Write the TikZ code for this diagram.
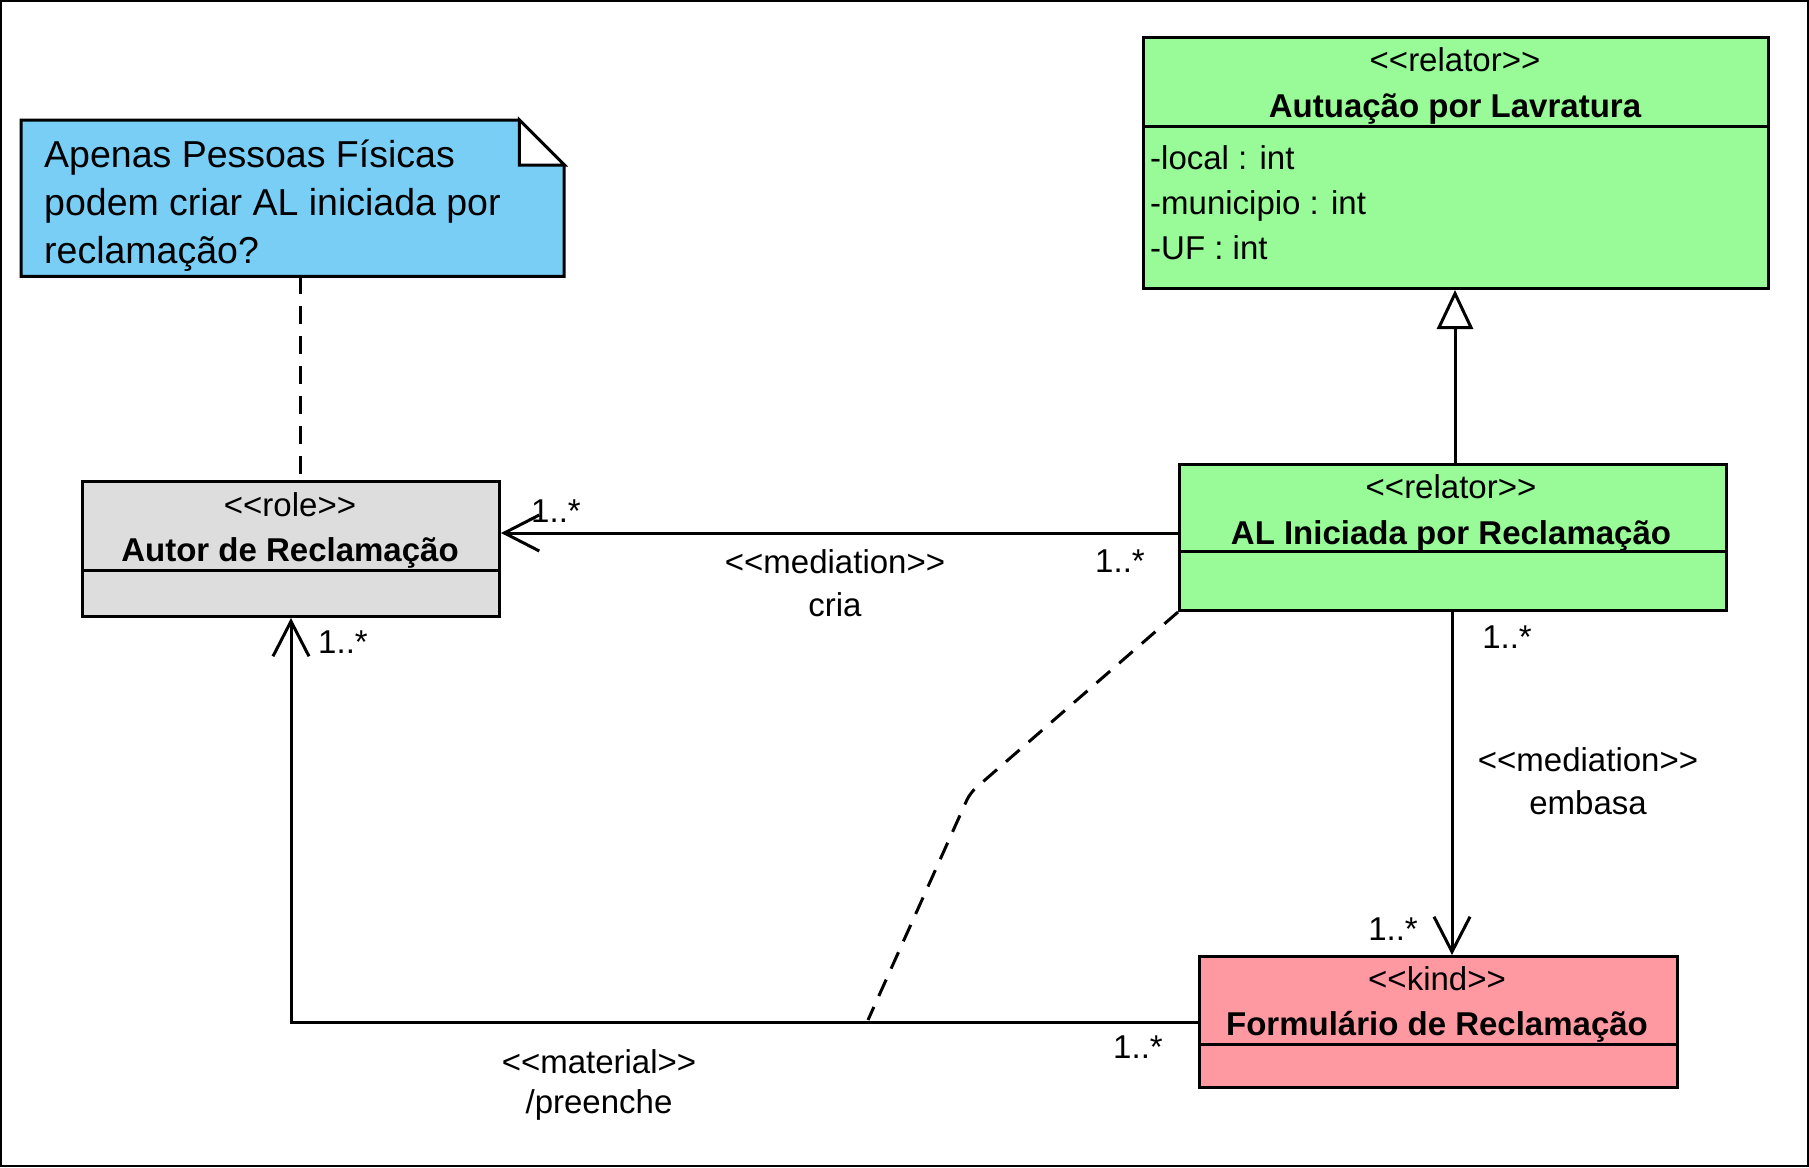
\documentclass[tikz,border=0pt]{standalone}
\usepackage{fontspec}
\setmainfont{Liberation Sans}
\usetikzlibrary{arrows.meta}
\definecolor{notablue}{RGB}{121,206,245}
\definecolor{relgreen}{RGB}{152,251,152}
\definecolor{rolegray}{RGB}{221,221,221}
\definecolor{kindpink}{RGB}{255,153,161}
\newcommand{\ster}[1]{<\kern0pt<#1>\kern0pt>}

\begin{document}
\begin{tikzpicture}[x=1pt,y=-1pt]
\tikzstyle{cls}=[rectangle,draw,line width=3pt,anchor=north west,inner sep=0pt]
\tikzstyle{lbl}=[font=\fontsize{33}{40}\selectfont,inner sep=0pt]
\tikzstyle{nm}=[font=\fontsize{33}{40}\selectfont\bfseries,inner sep=0pt]
\tikzstyle{assoc}=[line width=3pt,-{Straight Barb[length=35pt,width=36pt]}]
\tikzstyle{dashline}=[line width=3pt,dash pattern=on 18pt off 12pt]

\useasboundingbox (0,0) rectangle (1809,1167);
\draw[line width=2pt] (1,1) rectangle (1808,1166);

% nota
\node[anchor=north west,minimum width=543pt,minimum height=156pt,inner sep=0pt] (nota) at (21,120) {};
\draw[line width=3pt,fill=notablue] (nota.north west) -- ++(498,0) -- ++(45,45) |- (nota.south west) -- cycle;
\draw[line width=3pt,fill=white] (nota.north east) ++(-45,0) -- ++(45,45) -- ++(-45,0) -- cycle;
\node[anchor=west,align=left,font=\fontsize{37.5}{48}\selectfont,inner sep=0pt] (notat) at (44,206) {Apenas Pessoas Físicas\\podem criar AL iniciada por\\reclamação?};

% classes
\node[cls,fill=relgreen,minimum width=625pt,minimum height=251pt] (alav) at (1142,36) {};
\draw[line width=3pt] (alav.west |- 0,126) -- (alav.east |- 0,126);
\node[lbl] at (1455,60) {\ster{relator}};
\node[nm] at (1455,109) {Autuação por Lavratura};
\node[lbl,anchor=base west] at (1150,169) {-local : int};
\node[lbl,anchor=base west] at (1150,214) {-municipio : int};
\node[lbl,anchor=base west] at (1150,259) {-UF : int};

\node[cls,fill=rolegray,minimum width=417pt,minimum height=135pt] (autor) at (81,480) {};
\draw[line width=3pt] (autor.west |- 0,570) -- (autor.east |- 0,570);
\node[lbl] at (290,505) {\ster{role}};
\node[nm] at (290,553) {Autor de Reclamação};

\node[cls,fill=relgreen,minimum width=547pt,minimum height=146pt] (alrec) at (1178,463) {};
\draw[line width=3pt] (alrec.west |- 0,551) -- (alrec.east |- 0,551);
\node[lbl] at (1451,487) {\ster{relator}};
\node[nm] at (1451,536) {AL Iniciada por Reclamação};

\node[cls,fill=kindpink,minimum width=478pt,minimum height=131pt] (form) at (1198,955) {};
\draw[line width=3pt] (form.west |- 0,1044) -- (form.east |- 0,1044);
\node[lbl] at (1437,979) {\ster{kind}};
\node[nm] at (1437,1027) {Formulário de Reclamação};

% ligacoes
\coordinate (c1) at (0,533);
\coordinate (c2) at (1452,0);
\coordinate (c3) at (1455,0);
\coordinate (d1) at (300,0);
\coordinate (b1) at (970,793);
\coordinate (m1) at (868,1020);
\draw[assoc] (alrec.west |- c1) -- (autor.east |- c1);
\draw[assoc] (alrec.south -| c2) -- (form.north -| c2);
\draw[line width=3pt,-{Triangle[open,fill=white,length=39pt,width=36pt]}] (alrec.north -| c3) -- (alav.south -| c3);
\draw[assoc] (form.west) -| (autor.south);
\draw[dashline,rounded corners=8pt] (alrec.south west) -- (b1) -- (m1);
\draw[dashline] (nota.south -| d1) -- (autor.north -| d1);

% rotulos
\node[lbl] at (556,511) {1..*};
\node[lbl] at (1120,561) {1..*};
\node[lbl] at (835,562) {\ster{mediation}};
\node[lbl] at (835,605) {cria};
\node[lbl] at (343,642) {1..*};
\node[lbl] at (1138,1047) {1..*};
\node[lbl] at (599,1062) {\ster{material}};
\node[lbl] at (599,1105) {/preenche};
\node[lbl] at (1507,637) {1..*};
\node[lbl] at (1393,929) {1..*};
\node[lbl] at (1588,760) {\ster{mediation}};
\node[lbl] at (1588,803) {embasa};
\end{tikzpicture}
\end{document}
